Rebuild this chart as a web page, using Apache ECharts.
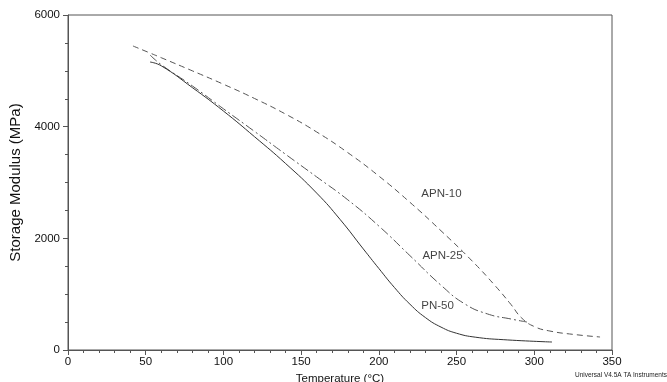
<!DOCTYPE html>
<html>
<head>
<meta charset="utf-8">
<script src="https://cdn.jsdelivr.net/npm/echarts@6/dist/echarts.min.js"></script>
<style>html,body{margin:0;padding:0;background:#fff}#c{width:667px;height:382px}</style>
</head>
<body>
<div id="c"></div>
<script>
// Data (Temperature °C, Storage modulus MPa)
const apn10T = [41.8, 52.8, 60, 80, 100, 120, 140, 160, 180, 200, 220, 240, 260, 275, 285, 292, 300, 310, 325, 342.3];
const apn10E = [5445, 5319, 5235, 5000, 4760, 4505, 4225, 3905, 3535, 3115, 2645, 2135, 1595, 1145, 815, 570, 420, 340, 280, 233];

const apn25T = [52.8, 60, 80, 100, 120, 140, 160, 180, 200, 220, 240, 255, 270, 285, 295.3];
const apn25E = [5283, 5110, 4730, 4320, 3915, 3505, 3100, 2690, 2220, 1690, 1160, 830, 645, 555, 501];

const pn50T = [52.8, 60, 80, 100, 120, 140, 160, 175, 190, 200, 210, 220, 230, 240, 250, 262, 280, 311.4];
const pn50E = [5158, 5090, 4700, 4280, 3820, 3340, 2810, 2340, 1810, 1460, 1120, 820, 580, 410, 300, 230, 185, 143];

const xTicks = { min: 0, max: 350, interval: 50 };
const yTicks = { min: 0, max: 6000, interval: 2000 };

const labels = [
  { name: 'APN-10', T: 227.3, E: 2794 },
  { name: 'APN-25', T: 228.0, E: 1684 },
  { name: 'PN-50', T: 227.3, E: 788 }
];

function pairs(t, e) { return t.map((v, i) => [v, e[i]]); }

const chart = echarts.init(document.getElementById('c'), null, { renderer: 'canvas' });
const font = 'Arial, "Liberation Sans", sans-serif';
const axisCol = '#555';

chart.setOption({
  animation: false,
  backgroundColor: '#fff',
  grid: { left: 68, right: 55, top: 15, bottom: 32, show: true, borderColor: axisCol, borderWidth: 1, outerBoundsMode: 'none', containLabel: false },
  xAxis: {
    type: 'value', min: xTicks.min, max: xTicks.max, interval: xTicks.interval,
    name: 'Temperature (°C)', nameLocation: 'middle', nameGap: 19,
    nameTextStyle: { fontFamily: font, fontSize: 11.5, color: '#111', verticalAlign: 'top' },
    axisLine: { lineStyle: { color: axisCol } },
    axisTick: { length: 5, lineStyle: { color: axisCol } },
    minorTick: { show: true, splitNumber: 5, length: 3, lineStyle: { color: axisCol } },
    axisLabel: { fontFamily: font, fontSize: 11.5, color: '#111', margin: 6 },
    splitLine: { show: false }
  },
  yAxis: {
    type: 'value', min: yTicks.min, max: yTicks.max, interval: yTicks.interval,
    name: 'Storage Modulus (MPa)', nameLocation: 'middle', nameGap: 37,
    nameTextStyle: { fontFamily: font, fontSize: 15, color: '#111' },
    axisLine: { show: true, lineStyle: { color: axisCol } },
    axisTick: { show: true, length: 5, lineStyle: { color: axisCol } },
    minorTick: { show: true, splitNumber: 4, length: 3, lineStyle: { color: axisCol } },
    axisLabel: { fontFamily: font, fontSize: 11.5, color: '#111', margin: 8, formatter: v => String(v) },
    splitLine: { show: false }
  },
  series: [
    { type: 'line', name: 'APN-10', data: pairs(apn10T, apn10E), smooth: 0.5, showSymbol: false,
      lineStyle: { color: '#555', width: 1, type: [6, 4] } },
    { type: 'line', name: 'APN-25', data: pairs(apn25T, apn25E), smooth: 0.5, showSymbol: false,
      lineStyle: { color: '#555', width: 1, type: [9, 3, 2, 3] } },
    { type: 'line', name: 'PN-50', data: pairs(pn50T, pn50E), smooth: 0.5, showSymbol: false,
      lineStyle: { color: '#333', width: 1 } },
    { type: 'scatter', data: labels.map(l => ({ value: [l.T, l.E], name: l.name })), symbolSize: 0,
      label: { show: true, position: 'right', distance: 0, formatter: p => p.name,
        fontFamily: font, fontSize: 11.5, color: '#111' } }
  ],
  graphic: [
    { type: 'text', right: 0, bottom: 3,
      style: { text: 'Universal V4.5A TA Instruments', fontFamily: font, fontSize: 6.5, fill: '#222' } }
  ]
});
</script>
</body>
</html>
